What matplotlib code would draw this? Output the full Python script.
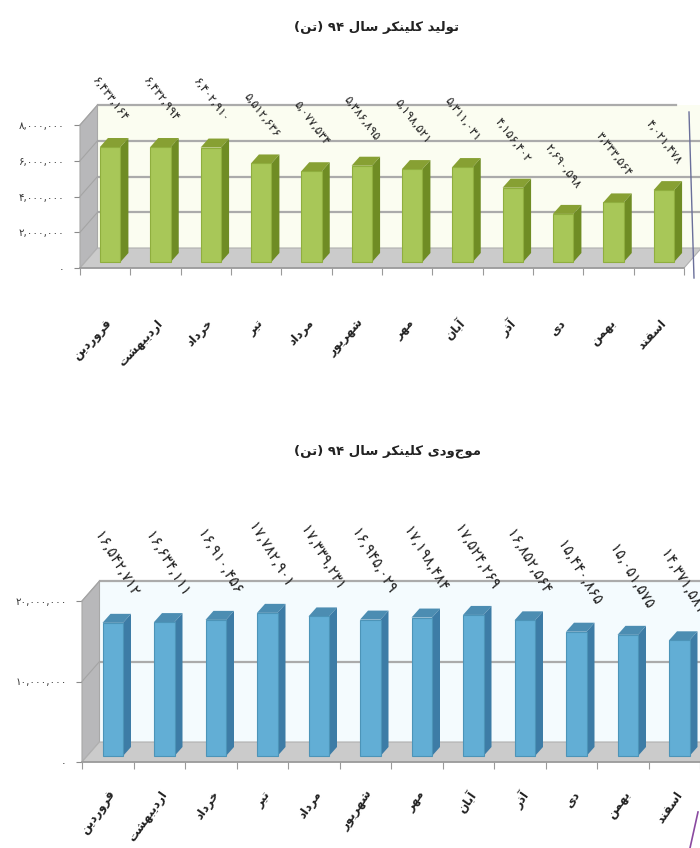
import re
import matplotlib

matplotlib.use("Agg")
import matplotlib.pyplot as plt
from matplotlib.lines import Line2D
from matplotlib.patches import Polygon

plt.rcParams["font.family"] = ["DejaVu Sans"]

# Chart data
months = ["فروردین", "اردیبهشت", "خرداد", "تیر", "مرداد", "شهریور",
          "مهر", "آبان", "آذر", "دی", "بهمن", "اسفند"]
production = [6433164, 6432994, 6402910, 5512636, 5077534, 5386895,
              5198521, 5311031, 4156402, 2690598, 3333564, 4021478]
stock = [16542712, 16634111, 16910456, 17782901, 17339231, 16945029,
         17198484, 17524269, 16852564, 15440865, 15051575, 14371581]
production_ticks = [0, 2000000, 4000000, 6000000, 8000000]
stock_ticks = [0, 10000000, 20000000]
production_title = "تولید کلینکر سال ۹۴ (تن)"
stock_title = "موجودی کلینکر سال ۹۴ (تن)"

W, H = 700, 848
fig = plt.figure(figsize=(W / 100, H / 100), dpi=100, facecolor="white")

# matplotlib does no Arabic shaping: isolated, final, initial, medial forms
FORMS = {
    "ا": (0xFE8D, 0xFE8E), "آ": (0xFE81, 0xFE82), "د": (0xFEA9, 0xFEAA),
    "ذ": (0xFEAB, 0xFEAC), "ر": (0xFEAD, 0xFEAE), "ز": (0xFEAF, 0xFEB0),
    "و": (0xFEED, 0xFEEE), "ب": (0xFE8F, 0xFE90, 0xFE91, 0xFE92),
    "ت": (0xFE95, 0xFE96, 0xFE97, 0xFE98), "خ": (0xFEA5, 0xFEA6, 0xFEA7, 0xFEA8),
    "س": (0xFEB1, 0xFEB2, 0xFEB3, 0xFEB4), "ش": (0xFEB5, 0xFEB6, 0xFEB7, 0xFEB8),
    "ف": (0xFED1, 0xFED2, 0xFED3, 0xFED4), "ل": (0xFEDD, 0xFEDE, 0xFEDF, 0xFEE0),
    "م": (0xFEE1, 0xFEE2, 0xFEE3, 0xFEE4), "ن": (0xFEE5, 0xFEE6, 0xFEE7, 0xFEE8),
    "ه": (0xFEE9, 0xFEEA, 0xFEEB, 0xFEEC), "ی": (0xFBFC, 0xFBFD, 0xFBFE, 0xFBFF),
    "ک": (0xFB8E, 0xFB8F, 0xFB90, 0xFB91),
}


def shape(text):
    out = []
    for i, ch in enumerate(text):
        if ch not in FORMS:
            out.append({"(": ")", ")": "("}.get(ch, ch))
            continue
        prev = text[i - 1] if i else ""
        nxt = text[i + 1] if i + 1 < len(text) else ""
        joins_prev = prev in FORMS and len(FORMS[prev]) == 4
        joins_next = nxt in FORMS and len(FORMS[ch]) == 4
        idx = (1 if joins_prev else 0) if not joins_next else (3 if joins_prev else 2)
        out.append(chr(FORMS[ch][idx]))
    visual = "".join(reversed(out))
    return re.sub("[۰-۹]+", lambda m: m.group(0)[::-1], visual)


def fa_number(value):
    return f"{value:,}".translate(str.maketrans("0123456789", "۰۱۲۳۴۵۶۷۸۹"))


def draw_chart(rect, values, ticks, title, title_xy, colors):
    x0, y0, x1, y1 = rect  # pixels, y from the top of the page
    ax = fig.add_axes([x0 / W, 1 - y0 / H, (x1 - x0) / W, (y0 - y1) / H])
    ymax = ticks[-1]
    ax.set_xlim(0, len(values))
    ax.set_ylim(0, ymax)
    ax.patch.set_visible(False)

    # pixel sizes converted to data units
    px = len(values) / (x1 - x0)
    py = ymax / (y0 - y1)
    dx, dy = 17.5 * px, 20 * py

    wall = Polygon([(dx, dy), (dx + 12, dy), (dx + 12, ymax + dy), (dx, ymax + dy)],
                   fc=colors["wall"], ec="none", zorder=1, clip_on=False)
    side = Polygon([(0, 0), (dx, dy), (dx, ymax + dy), (0, ymax)],
                   fc="#b8b8ba", ec="#a8a8a8", lw=0.8, zorder=2, clip_on=False)
    floor = Polygon([(0, 0), (12, 0), (12 + dx, dy), (dx, dy)],
                    fc="#cbcbcb", ec="#b0b0b0", lw=0.8, zorder=2, clip_on=False)
    ax.add_patch(wall)
    ax.add_patch(side)
    ax.add_patch(floor)
    for t in ticks[1:]:
        end = 12 + dx if t != ymax else colors["top_end"]
        ax.plot([dx, end], [t + dy, t + dy], color="#ababab", lw=1.6, zorder=1.5,
                clip_on=False)
        ax.plot([0, dx], [t, t + dy], color="#a4a4a4", lw=0.8, zorder=2.5, clip_on=False)

    # bars: library bars for the front faces, depth added from their geometry
    lift = 6 * py
    centres = [i + 0.5 + 5 * px for i in range(len(values))]
    bars = ax.bar(centres, values, width=20.5 * px, bottom=lift, color=colors["front"],
                  edgecolor=colors["edge"], linewidth=0.8, zorder=4, clip_on=False)
    bdx, bdy = 8 * px, 9 * py
    for b in bars:
        left, right = b.get_x(), b.get_x() + b.get_width()
        low, top = b.get_y(), b.get_y() + b.get_height()
        ax.add_patch(Polygon([(left, top), (right, top), (right + bdx, top + bdy),
                              (left + bdx, top + bdy)], fc=colors["top"], ec="none",
                             zorder=3.5, clip_on=False))
        ax.add_patch(Polygon([(right, low), (right + bdx, low + bdy),
                              (right + bdx, top + bdy), (right, top)], fc=colors["side"],
                             ec="none", zorder=3.5, clip_on=False))

    for c, v in zip(centres, values):
        ax.annotate(fa_number(v), (c, v + lift), xytext=colors["label_offset"],
                    textcoords="offset points", rotation=colors["label_rot"],
                    rotation_mode="anchor", ha="right", va="center",
                    fontsize=colors["label_size"], color="#222222",
                    annotation_clip=False, zorder=6)

    for name in ("top", "right", "left"):
        ax.spines[name].set_visible(False)
    ax.spines["bottom"].set_color("#9a9a9a")
    ax.spines["bottom"].set_linewidth(1.2)
    ax.set_yticks(ticks, [fa_number(t) for t in ticks], fontsize=7.4, color="#333333")
    ax.tick_params(axis="y", length=4, color="#8a8a8a", pad=7)
    ax.set_xticks(range(len(values) + 1), [""] * (len(values) + 1))
    ax.tick_params(axis="x", which="major", length=5, color="#9a9a9a")
    ax.set_xticks([i + 0.5 for i in range(len(values))], minor=True)
    ax.set_xticklabels([shape(m) for m in months], minor=True, rotation=colors["month_rot"],
                       ha="right", rotation_mode="anchor", fontsize=8.6, fontweight="bold",
                       color="#222222")
    ax.tick_params(axis="x", which="minor", length=0, pad=colors["month_pad"])

    fig.text(title_xy[0] / W, 1 - title_xy[1] / H, shape(title), ha="center", va="center",
             fontsize=9.5, fontweight="bold", color="#222222")


green = {"wall": "#fbfdf1", "front": "#a8c758", "edge": "#8fae3e", "top": "#87a033",
         "side": "#6f8c24", "top_end": 11.85, "label_offset": (11.5, 19.5),
         "label_rot": -53, "label_size": 8.6, "month_rot": 47, "month_pad": 35}
blue = {"wall": "#f4fbfe", "front": "#62aed5", "edge": "#4c94b8", "top": "#4c8db2",
        "side": "#3d7ca6", "top_end": 12.5, "label_offset": (16, 19.5),
        "label_rot": -59, "label_size": 10.6, "month_rot": 55, "month_pad": 19}

draw_chart((80, 268, 684, 125), production, production_ticks, production_title,
           (377, 28), green)
draw_chart((82, 762, 700, 601), stock, stock_ticks, stock_title, (388, 451), blue)

# pen marks on the scanned page
fig.add_artist(Line2D([689 / W, 694 / W], [1 - 112 / H, 1 - 278 / H], color="#6a6f9a", lw=1))
fig.add_artist(Line2D([698 / W, 690 / W], [1 - 812 / H, 1 - 848 / H], color="#8a4aa0", lw=1.2))

fig.savefig("out.png", dpi=100)
